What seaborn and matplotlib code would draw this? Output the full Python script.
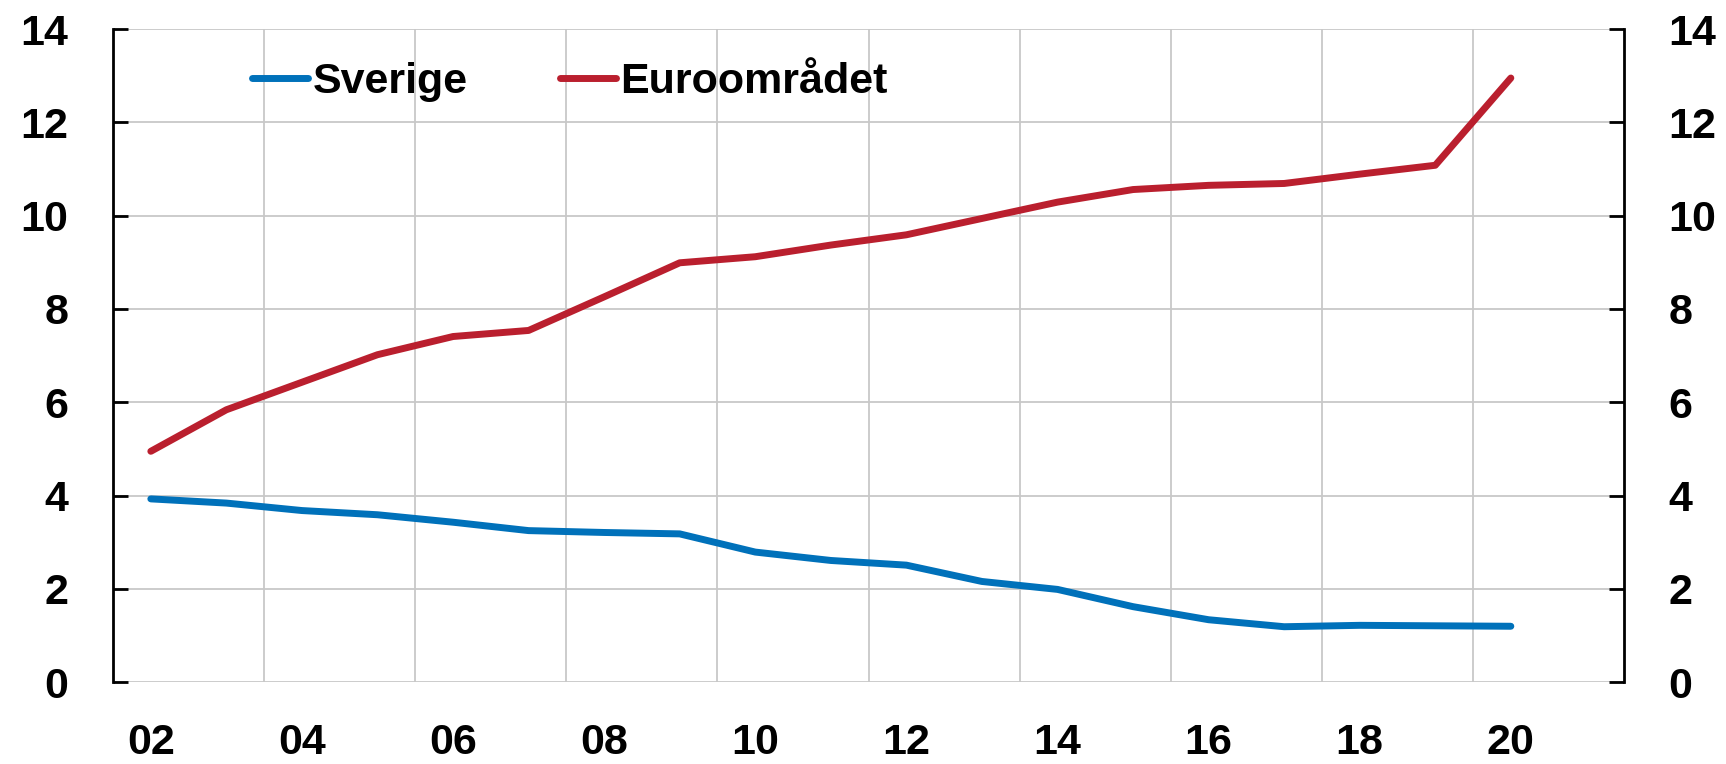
import numpy as np
import pandas as pd
import matplotlib
matplotlib.use('Agg')
import matplotlib.pyplot as plt
import seaborn as sns

years = ['02', '03', '04', '05', '06', '07', '08', '09', '10', '11',
         '12', '13', '14', '15', '16', '17', '18', '19', '20']
sverige = [3.93, 3.84, 3.68, 3.59, 3.43, 3.25, 3.21, 3.18, 2.79, 2.61,
           2.51, 2.16, 1.99, 1.62, 1.34, 1.19, 1.22, 1.21, 1.20]
euro = [4.95, 5.84, 6.43, 7.02, 7.41, 7.54, 8.26, 8.99, 9.12, 9.37,
        9.59, 9.94, 10.29, 10.56, 10.65, 10.69, 10.89, 11.08, 12.95]
series = ['Sverige', 'Euroområdet']
colors = ['#0071BA', '#BA1F2E']

df = pd.DataFrame({
    'x': list(range(len(years))) * 2,
    'value': sverige + euro,
    'serie': [series[0]] * len(years) + [series[1]] * len(years),
})

sns.set_style('white')
plt.rcParams['font.family'] = ['Liberation Sans', 'DejaVu Sans']
plt.rcParams['font.weight'] = 'bold'
plt.rcParams['text.color'] = 'black'
plt.rcParams['xtick.color'] = 'black'
plt.rcParams['ytick.color'] = 'black'

fig = plt.figure(figsize=(17.26, 7.64), dpi=100)
ax = fig.add_axes([0.0655, 0.107, 0.8755, 0.855])

sns.lineplot(data=df, x='x', y='value', hue='serie', palette=colors,
             linewidth=5, ax=ax, legend=False)

ax.set_xlim(-0.5, len(years) + 0.5)
ax.set_ylim(0, 14)
ax.set_yticks(range(0, 15, 2))

# vertical grid lines between every second year
for g in np.arange(1.5, len(years), 2):
    ax.axvline(g, color='#C8C8C8', lw=1.3, zorder=0)
for v in range(0, 15, 2):
    ax.axhline(v, color='#C8C8C8', lw=1.3, zorder=0)

ax.set_xticks(range(0, len(years), 2))
ax.set_xticklabels(years[::2])
ax.tick_params(axis='x', length=0, labelsize=31, pad=29, labelcolor='black')
ax.tick_params(axis='y', direction='in', length=11, width=2, labelsize=31,
               pad=32, left=True, right=True, labelleft=True, labelright=True,
               labelcolor='black')
for lab in ax.get_xticklabels() + ax.get_yticklabels():
    lab.set_fontweight('bold')

for s in ['top', 'bottom']:
    ax.spines[s].set_visible(False)
for s in ['left', 'right']:
    ax.spines[s].set_color('black')
    ax.spines[s].set_linewidth(2)

ax.set_xlabel('')
ax.set_ylabel('')

handles = [plt.Line2D([], [], color=c, lw=5, solid_capstyle='round') for c in colors]
ax.legend(handles, series, loc='upper left', bbox_to_anchor=(0.092, 0.95),
          ncol=2, frameon=False, handlelength=1.3,
          handletextpad=0.1, columnspacing=2.15, borderpad=0, borderaxespad=0,
          prop={'weight': 'bold', 'size': 31})

fig.savefig('out.png', dpi=100)
